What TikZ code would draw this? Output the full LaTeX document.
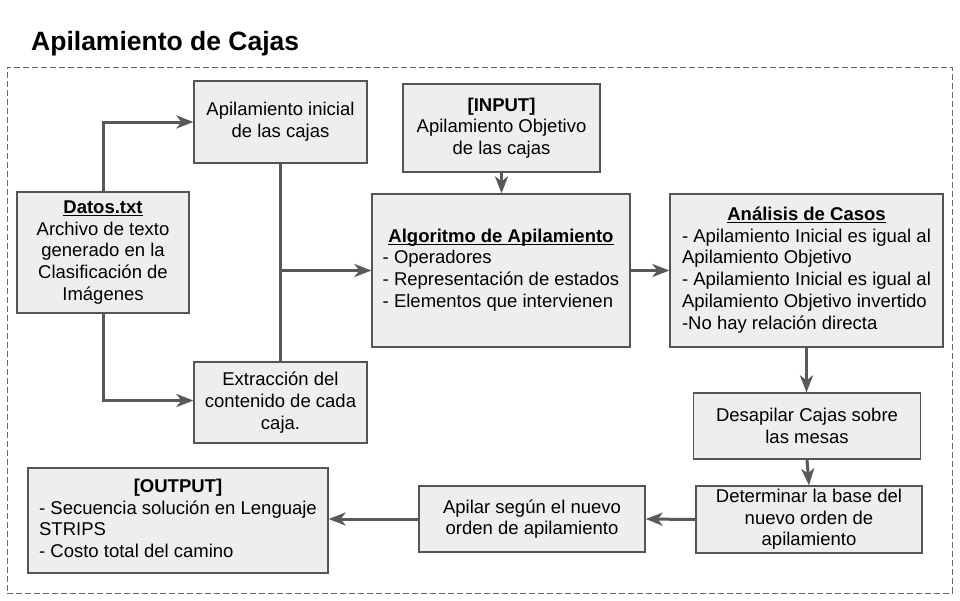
\documentclass[tikz,border=0pt]{standalone}
\usepackage{fontspec}
\setmainfont{Liberation Sans}
\usetikzlibrary{arrows.meta}
\definecolor{boxfill}{HTML}{EEEEEE}
\definecolor{boxline}{HTML}{555555}
\definecolor{arrowc}{HTML}{595959}
\definecolor{framec}{HTML}{666666}
\newcommand\hdul[1]{\setbox0=\hbox{#1}\leavevmode\rlap{\rule[-2.6pt]{\wd0}{1.3pt}}\box0}
\newcommand\bodyf{\fontsize{18.5}{21.7}\selectfont}
\begin{document}
\begin{tikzpicture}[x=1pt,y=-1pt,
  box/.style={draw=boxline, fill=boxfill, line width=1.2pt, inner sep=0pt, font=\bodyf, align=center},
  conn/.style={draw=arrowc, line width=3pt},
  arr/.style={conn, -{Stealth[length=17pt,width=13pt,inset=5pt]}},
  frm/.style={draw=framec, line width=1pt, dash pattern=on 6pt off 3pt, inner sep=0pt}]
\useasboundingbox (0,0) rectangle (960,600);

\node[anchor=base west, inner sep=0pt, font=\fontsize{26.5}{30}\selectfont\bfseries] (title) at (31,50) {Apilamiento de Cajas};
\node[frm, minimum width=945pt, minimum height=526pt] (frame) at (479.5,330) {};

\node[box, minimum width=173pt, minimum height=82pt] (ini) at (280.5,122) {Apilamiento inicial\\de las cajas};
\node[box, minimum width=172pt, minimum height=121pt] (datos) at (103,252.5) {\hdul{\textbf{Datos.txt}}\\Archivo de texto\\generado en la\\Clasificación de\\Imágenes};
\node[box, minimum width=173pt, minimum height=81pt] (ext) at (280.5,402.5) {Extracción del\\contenido de cada\\caja.};
\node[box, minimum width=197pt, minimum height=88pt] (input) at (501.5,128) {\textbf{[INPUT]}\\Apilamiento Objetivo\\de las cajas};
\node[box, minimum width=258pt, minimum height=153pt] (alg) at (501,270.5) {\begin{tabular}{@{}l@{}}\multicolumn{1}{@{}c@{}}{\hdul{\textbf{Algoritmo de Apilamiento}}}\\- Operadores\\- Representación de estados\\- Elementos que intervienen\end{tabular}};
\node[box, minimum width=273pt, minimum height=153pt] (ana) at (806.5,270.5) {\begin{tabular}{@{}l@{}}\multicolumn{1}{@{}c@{}}{\hdul{\textbf{Análisis de Casos}}}\\- Apilamiento Inicial es igual al\\Apilamiento Objetivo\\- Apilamiento Inicial es igual al\\Apilamiento Objetivo invertido\\-No hay relación directa\end{tabular}};
\node[box, minimum width=227pt, minimum height=66pt] (des) at (807,426) {Desapilar Cajas sobre\\las mesas};
\node[box, minimum width=226pt, minimum height=67pt] (det) at (809,519.5) {Determinar la base del\\nuevo orden de\\apilamiento};
\node[box, minimum width=226pt, minimum height=66pt] (api) at (532,519) {Apilar según el nuevo\\orden de apilamiento};
\node[box, minimum width=300pt, minimum height=105pt] (out) at (178,520.5) {\begin{tabular}{@{}l@{}}\multicolumn{1}{@{}c@{}}{\textbf{[OUTPUT]}}\\- Secuencia solución en Lenguaje\\STRIPS\\- Costo total del camino\end{tabular}};

\draw[arr] (datos.north) |- (ini.west);
\draw[arr] (datos.south) |- ([yshift=2pt]ext.west);
\draw[conn] (ini.south) -- (ext.north);
\draw[arr] (ini.south |- alg.west) -- (alg.west);
\draw[arr] (input.south) -- (input.south |- alg.north);
\draw[arr] (alg.east) -- (ana.west);
\draw[arr] (ana.south) -- (ana.south |- des.north);
\draw[arr] (des.south) -- (det.north);
\draw[arr] (det.west) -- (api.east);
\draw[arr] (api.west) -- (api.west -| out.east);
\end{tikzpicture}
\end{document}
